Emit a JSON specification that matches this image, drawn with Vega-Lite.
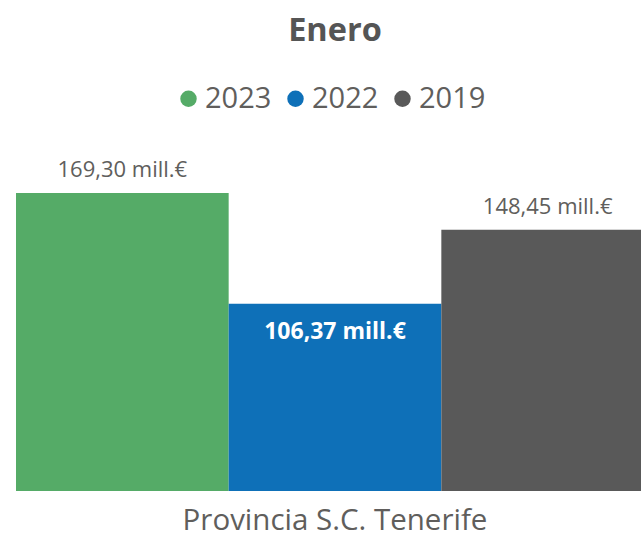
{
  "$schema": "https://vega.github.io/schema/vega-lite/v6.json",
  "autosize": "none",
  "width": 638,
  "height": 352,
  "padding": {"left": 16, "top": 139, "right": 0, "bottom": 42},
  "background": "white",
  "title": {"text": "Enero", "fontSize": 32.5, "font": "Open Sans", "fontWeight": "bold", "color": "#555555", "anchor": "middle", "offset": 0, "dy": -37},
  "data": {"values": [
    {"province": "Provincia S.C. Tenerife", "year": "2023", "value": 169.30},
    {"province": "Provincia S.C. Tenerife", "year": "2022", "value": 106.37},
    {"province": "Provincia S.C. Tenerife", "year": "2019", "value": 148.45}
  ]},
  "transform": [
    {"calculate": "replace(format(datum.value, '.2f'), '.', ',') + ' mill.€'", "as": "label"}
  ],
  "encoding": {
    "x": {"field": "province", "type": "nominal", "scale": {"paddingInner": 0, "paddingOuter": 0},
      "axis": {"title": null, "ticks": false, "domain": false, "labelAngle": 0, "labelFontSize": 29.5, "labelFont": "Open Sans", "labelColor": "#605E5C", "labelPadding": 15, "labelBaseline": "top", "labelLimit": 0}},
    "xOffset": {"field": "year", "type": "nominal", "sort": ["2023", "2022", "2019"], "scale": {"paddingInner": 0, "paddingOuter": 0}},
    "y": {"field": "value", "type": "quantitative", "scale": {"domain": [0, 200]}, "axis": null}
  },
  "layer": [
    {
      "mark": {"type": "bar"},
      "encoding": {
        "color": {"field": "year", "type": "nominal", "sort": ["2023", "2022", "2019"],
          "scale": {"domain": ["2023", "2022", "2019"], "range": ["#55AB67", "#0E70B8", "#595959"]},
          "legend": {"title": null, "orient": "none", "direction": "horizontal", "legendX": 158, "legendY": -55,
            "symbolType": "circle", "symbolSize": 270, "labelFontSize": 29, "labelFont": "Open Sans", "labelColor": "#605E5C",
            "columnPadding": 9, "labelOffset": 2, "symbolStrokeWidth": 0}}
      }
    },
    {
      "transform": [{"filter": "datum.year != '2022'"}],
      "mark": {"type": "text", "baseline": "middle", "dy": -23, "fontSize": 22, "font": "Open Sans", "color": "#605E5C"},
      "encoding": {"text": {"field": "label"}}
    },
    {
      "transform": [{"filter": "datum.year == '2022'"}],
      "mark": {"type": "text", "baseline": "middle", "dy": 28, "fontSize": 23, "font": "Open Sans", "fontWeight": "bold", "color": "white"},
      "encoding": {"text": {"field": "label"}}
    }
  ],
  "config": {"view": {"stroke": null}}
}
